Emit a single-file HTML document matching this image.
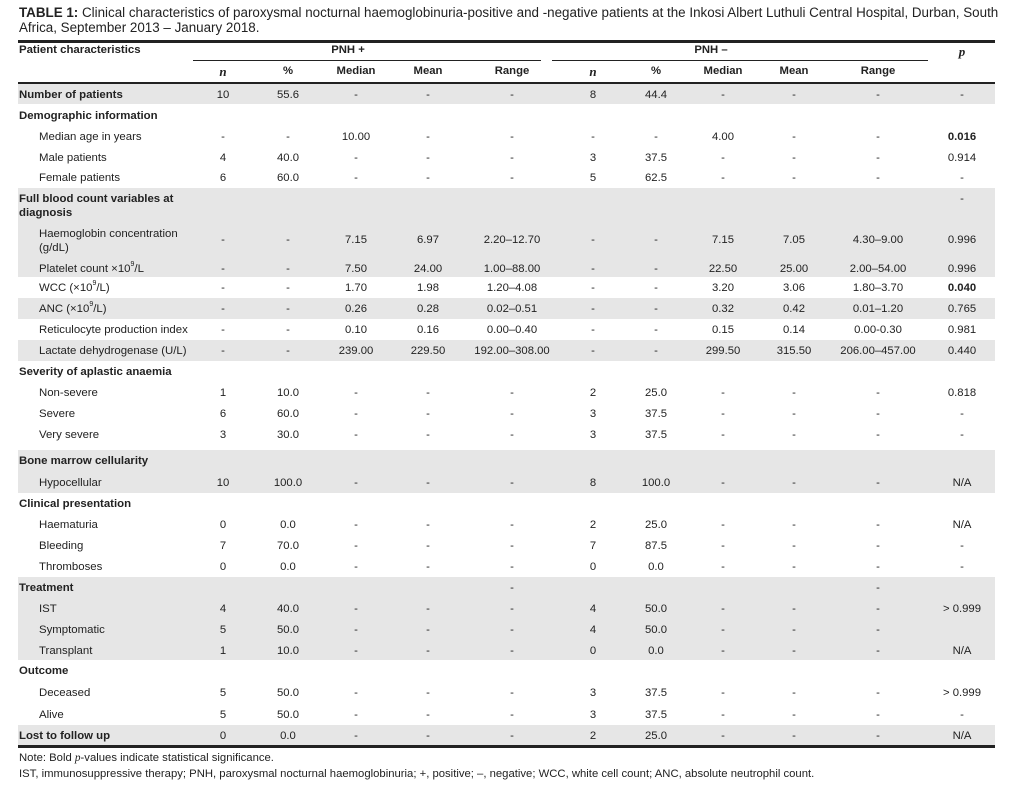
<!DOCTYPE html>
<html><head><meta charset="utf-8"><style>
body{margin:0;width:1031px;height:790px;background:#fff;font-family:"Liberation Sans",sans-serif;color:#222;position:relative;overflow:hidden}
.a{position:absolute;white-space:nowrap}
.t{font-size:13.4px;line-height:15px;left:19px;top:5px;width:990px;white-space:normal}
.c{font-size:11.3px;text-align:center;transform:translateX(-50%)}
.l{font-size:11.4px}
.b{font-weight:bold}
.it{font-family:"Liberation Serif",serif;font-style:italic;font-size:13px}
.bg{position:absolute;left:18px;width:977px;background:#e6e6e6}
.ln{position:absolute;background:#222}
.n{font-size:11.3px;left:19px}
sup{font-size:7px;line-height:0;position:relative;top:-1px;vertical-align:super}
</style></head><body>
<div class="a t"><b>TABLE 1:</b> Clinical characteristics of paroxysmal nocturnal haemoglobinuria-positive and -negative patients at the Inkosi Albert Luthuli Central Hospital, Durban, South Africa, September 2013 – January 2018.</div>
<div id="tbl"></div>
<div class="a n" style="top:752px">Note: Bold <i style="font-family:'Liberation Serif',serif">p</i>-values indicate statistical significance.</div>
<div class="a n" style="top:768px">IST, immunosuppressive therapy; PNH, paroxysmal nocturnal haemoglobinuria; +, positive; –, negative; WCC, white cell count; ANC, absolute neutrophil count.</div>
<script>
const colX=[223,288,356,428,512,593,656,723,794,878,962];
const D='-';
const labels=["Number of patients","Demographic information","Median age in years","Male patients","Female patients","Full blood count variables at<br>diagnosis","Haemoglobin concentration<br>(g/dL)","Platelet count ×10<sup>9</sup>/L","WCC (×10<sup>9</sup>/L)","ANC (×10<sup>9</sup>/L)","Reticulocyte production index","Lactate dehydrogenase (U/L)","Severity of aplastic anaemia","Non-severe","Severe","Very severe","Bone marrow cellularity","Hypocellular","Clinical presentation","Haematuria","Bleeding","Thromboses","Treatment","IST","Symptomatic","Transplant","Outcome","Deceased","Alive","Lost to follow up"];
const kinds=["b","h","s","s","s","h","s","s","s","s","s","s","h","s","s","s","h","s","h","s","s","s","h","s","s","s","h","s","s","b"];
const tops=[84,105,126,147,167,188,223,258,277,298,319,340,361,382,403,424,450,472,493,514,535,556,577,598,619,640,660,682,704,725];
const heights=[20,21,21,20,21,35,35,19,21,21,21,21,21,21,21,21,22,21,21,21,21,21,21,21,21,20,22,22,21,20];
const shaded=[1,0,0,0,0,1,1,1,0,1,0,1,0,0,0,0,1,1,0,0,0,0,1,1,1,1,0,0,0,1];
const values=[
["10","55.6",D,D,D,"8","44.4",D,D,D,D],
["","","","","","","","","","",""],
[D,D,"10.00",D,D,D,D,"4.00",D,D,"0.016"],
["4","40.0",D,D,D,"3","37.5",D,D,D,"0.914"],
["6","60.0",D,D,D,"5","62.5",D,D,D,D],
["","","","","","","","","","",D],
[D,D,"7.15","6.97","2.20–12.70",D,D,"7.15","7.05","4.30–9.00","0.996"],
[D,D,"7.50","24.00","1.00–88.00",D,D,"22.50","25.00","2.00–54.00","0.996"],
[D,D,"1.70","1.98","1.20–4.08",D,D,"3.20","3.06","1.80–3.70","0.040"],
[D,D,"0.26","0.28","0.02–0.51",D,D,"0.32","0.42","0.01–1.20","0.765"],
[D,D,"0.10","0.16","0.00–0.40",D,D,"0.15","0.14","0.00-0.30","0.981"],
[D,D,"239.00","229.50","192.00–308.00",D,D,"299.50","315.50","206.00–457.00","0.440"],
["","","","","","","","","","",""],
["1","10.0",D,D,D,"2","25.0",D,D,D,"0.818"],
["6","60.0",D,D,D,"3","37.5",D,D,D,D],
["3","30.0",D,D,D,"3","37.5",D,D,D,D],
["","","","","","","","","","",""],
["10","100.0",D,D,D,"8","100.0",D,D,D,"N/A"],
["","","","","","","","","","",""],
["0","0.0",D,D,D,"2","25.0",D,D,D,"N/A"],
["7","70.0",D,D,D,"7","87.5",D,D,D,D],
["0","0.0",D,D,D,"0","0.0",D,D,D,D],
["","","","",D,"","","","",D,""],
["4","40.0",D,D,D,"4","50.0",D,D,D,"> 0.999"],
["5","50.0",D,D,D,"4","50.0",D,D,D,""],
["1","10.0",D,D,D,"0","0.0",D,D,D,"N/A"],
["","","","","","","","","","",""],
["5","50.0",D,D,D,"3","37.5",D,D,D,"> 0.999"],
["5","50.0",D,D,D,"3","37.5",D,D,D,D],
["0","0.0",D,D,D,"2","25.0",D,D,D,"N/A"]];
const boldP=["0.016","0.040"];
const hdr=["n","%","Median","Mean","Range","n","%","Median","Mean","Range"];
const T=document.body;
function add(cls,txt,x,y,name,inter){const e=document.createElement('div');e.className=cls;e.innerHTML=txt;e.style.left=x+'px';e.style.top=y+'px';


T.appendChild(e);return e;}
function line(x,y,w,h,name){const e=document.createElement('div');e.className='ln';e.style.cssText+=`left:${x}px;top:${y}px;width:${w}px;height:${h}px`;


T.appendChild(e);}
labels.forEach((lab,i)=>{
 if(shaded[i]){const g=document.createElement('div');g.className='bg';g.style.top=tops[i]+'px';g.style.height=heights[i]+'px';
 
 
 T.appendChild(g);}
});
line(18,40,977,3,'table-top-rule');
line(193,60,348,1,'pnh-positive-rule');
line(552,60,376,1,'pnh-negative-rule');
line(18,82,977,1.5,'header-rule');
line(18,745,977,3,'table-bottom-rule');
add('a l b','Patient characteristics',19,44,'header-characteristics',false);
add('a c b','PNH +',348,44,'header-pnh-positive',false);
add('a c b','PNH –',711,44,'header-pnh-negative',false);
add('a c it b','p',962,44,'header-p-value',false);
hdr.forEach((h,j)=>{const it=h==='n';add('a c b'+(it?' it':''),h,colX[j],it?64:65,'header-'+h.toLowerCase(),false);});
labels.forEach((lab,i)=>{
 const y=tops[i]+4;
 const ind=kinds[i]==='s'?39:19;
 add('a l'+(kinds[i]!=='s'?' b':''),lab,ind,y,'row-label',false).style.lineHeight='14px';
 values[i].forEach((v,j)=>{ if(v==='')return;
  const cy=(i===5)?tops[i]+4:(heights[i]>30?tops[i]+10:y);
  add('a c'+(j===10&&boldP.includes(v)?' b':''),v,colX[j],cy,'cell-value',false).style.lineHeight='14px';
 });
});
</script>
</body></html>
